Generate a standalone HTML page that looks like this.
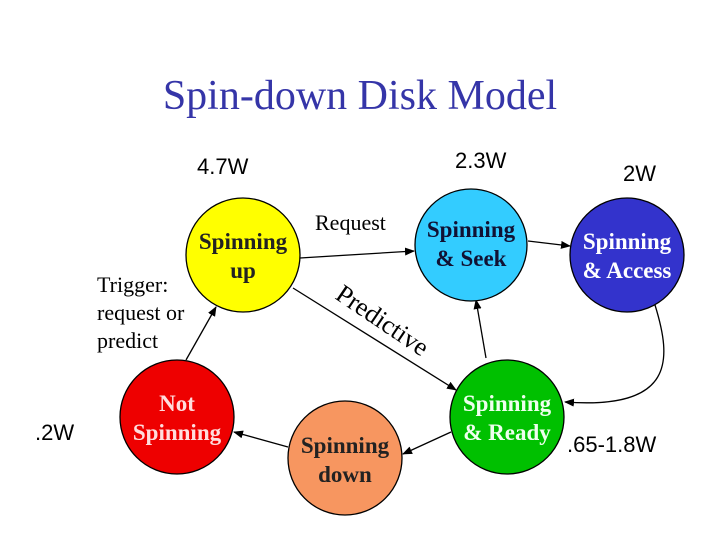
<!DOCTYPE html>
<html><head><meta charset="utf-8"><style>
body{margin:0;background:#fff}
svg{display:block}
.s{font-family:"Liberation Serif",serif}
.a{font-family:"Liberation Sans",sans-serif}
.b{font-family:"Liberation Serif",serif;font-weight:bold;font-size:23px;text-anchor:middle}
</style></head><body>
<svg width="720" height="540" viewBox="0 0 720 540" xmlns="http://www.w3.org/2000/svg">
<defs><marker id="m" markerWidth="10" markerHeight="8" refX="9" refY="4" orient="auto" markerUnits="userSpaceOnUse"><path d="M0,0 L10,4 L0,8 Z" fill="#000"/></marker></defs>
<text x="360" y="109" class="s" font-size="42" fill="#3535a8" text-anchor="middle">Spin-down Disk Model</text>
<text x="197" y="174" class="a" font-size="22">4.7W</text>
<text x="455" y="168" class="a" font-size="22">2.3W</text>
<text x="623" y="181" class="a" font-size="22">2W</text>
<text x="35" y="440" class="a" font-size="22">.2W</text>
<text x="567" y="452" class="a" font-size="22">.65-1.8W</text>
<text x="315" y="230" class="s" font-size="22">Request</text>
<text x="97" y="292" class="s" font-size="22">Trigger:</text>
<text x="97" y="320" class="s" font-size="22">request or</text>
<text x="97" y="348" class="s" font-size="22">predict</text>
<text x="0" y="0" class="s" font-size="26" transform="translate(334,298) rotate(34)">Predictive</text>
<g stroke="#000" stroke-width="1.3" fill="none">
<line x1="300" y1="258" x2="414" y2="251" marker-end="url(#m)"/>
<line x1="293" y1="288" x2="456" y2="390" marker-end="url(#m)"/>
<line x1="451" y1="432" x2="403" y2="454" marker-end="url(#m)"/>
<line x1="288" y1="447" x2="234" y2="432" marker-end="url(#m)"/>
<line x1="186" y1="360" x2="216" y2="307" marker-end="url(#m)"/>
<line x1="486" y1="358" x2="476" y2="300" marker-end="url(#m)"/>
<line x1="528" y1="241" x2="570" y2="246" marker-end="url(#m)"/>
<path d="M655,305 C672,360 675,410 565,402" marker-end="url(#m)"/>
</g>
<g stroke="#000" stroke-width="1.3">
<circle cx="243" cy="255" r="57" fill="#ffff00"/>
<circle cx="177" cy="417" r="57" fill="#ee0000"/>
<circle cx="345" cy="458" r="57" fill="#f79660"/>
<circle cx="471" cy="245" r="56" fill="#33ccff"/>
<circle cx="627" cy="255" r="57" fill="#3333cc"/>
<circle cx="507" cy="417" r="57" fill="#00c000"/>
</g>
<text x="243" y="249" class="b" fill="#222">Spinning</text>
<text x="243" y="278" class="b" fill="#222">up</text>
<text x="177" y="411" class="b" fill="#fdd">Not</text>
<text x="177" y="440" class="b" fill="#fdd">Spinning</text>
<text x="345" y="453" class="b" fill="#222">Spinning</text>
<text x="345" y="482" class="b" fill="#222">down</text>
<text x="471" y="237" class="b" fill="#113">Spinning</text>
<text x="471" y="266" class="b" fill="#113">&amp; Seek</text>
<text x="627" y="249" class="b" fill="#fff">Spinning</text>
<text x="627" y="278" class="b" fill="#fff">&amp; Access</text>
<text x="507" y="411" class="b" fill="#efe">Spinning</text>
<text x="507" y="440" class="b" fill="#efe">&amp; Ready</text>
</svg>
</body></html>
